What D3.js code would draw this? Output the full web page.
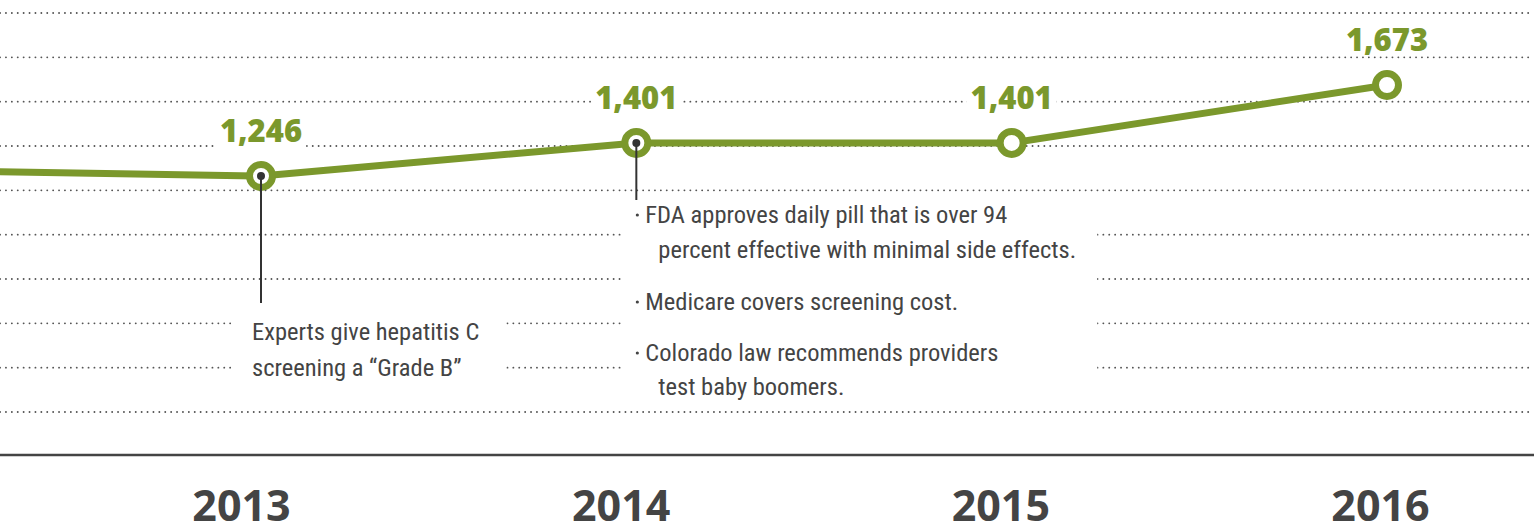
<!DOCTYPE html>
<html>
<head>
<meta charset="utf-8">
<script src="https://cdn.jsdelivr.net/npm/d3@7"></script>
<style>
  body { margin: 0; background: #fff; }
  svg { display: block; }
</style>
</head>
<body>
<div id="chart"></div>
<script>
const W = 1534, H = 529;

// data (2012 point sits just off the left edge)
const years = [2012, 2013, 2014, 2015, 2016];
const cases = [1275, 1246, 1401, 1401, 1673];
const yearLabels = ["2013", "2014", "2015", "2016"];
const gridRows = d3.range(10);

const note2013 = ["Experts give hepatitis C", "screening a \u201cGrade B\u201d"];
const note2014 = [
  ["FDA approves daily pill that is over 94", "percent effective with minimal side effects."],
  ["Medicare covers screening cost."],
  ["Colorado law recommends providers", "test baby boomers."]
];

const green = "#7b982c", ink = "#444";

const svg = d3.select("#chart").append("svg")
  .attr("width", W).attr("height", H);

const x = d3.scaleLinear().domain([2013, 2016]).range([261, 1387]);
const y = d3.scaleLinear().domain([1246, 1673]).range([176, 85]);
const gy = d3.scaleLinear().domain([0, 9]).range([13, 412]);
const xLabel = d3.scaleLinear().domain([2013, 2016]).range([241, 1380]);

const data = years.map((yr, i) => ({ year: yr, value: cases[i] }));

// dotted gridlines
svg.append("g").selectAll("line")
  .data(gridRows)
  .join("line")
  .attr("x1", 0).attr("x2", W)
  .attr("y1", d => gy(d)).attr("y2", d => gy(d))
  .attr("stroke", "#555")
  .attr("stroke-width", 1.8)
  .attr("stroke-linecap", "round")
  .attr("stroke-dasharray", "0.1 5.8");

// baseline
svg.append("line")
  .attr("x1", 0).attr("x2", W)
  .attr("y1", 455).attr("y2", 455)
  .attr("stroke", ink).attr("stroke-width", 2.5);

// year axis
const axis = svg.append("g")
  .attr("transform", "translate(0,521)")
  .call(d3.axisBottom(xLabel).tickValues([2013, 2014, 2015, 2016])
    .tickFormat((d, i) => yearLabels[i]).tickSize(0).tickPadding(0));
axis.select(".domain").remove();
axis.selectAll("text")
  .attr("dy", 0)
  .attr("fill", ink)
  .style("font-family", "'Open Sans', sans-serif")
  .style("font-weight", 700)
  .style("font-size", "43px");

// annotations
const noteFont = "'Liberation Sans Narrow', 'Roboto Condensed', 'Liberation Sans', sans-serif";
const noteSize = "24.5px";
const noteLayer = svg.append("g");

function addBox(g, padL, padR, padT, padB) {
  const b = g.node().getBBox();
  g.insert("rect", ":first-child")
    .attr("x", b.x - padL).attr("y", b.y - padT)
    .attr("width", b.width + padL + padR).attr("height", b.height + padT + padB)
    .attr("fill", "#fff");
}

const g13 = noteLayer.append("g");
g13.selectAll("text")
  .data(note2013)
  .join("text")
  .attr("x", x(2013) - 9)
  .attr("y", (d, i) => 340 + i * 36)
  .attr("fill", ink)
  .style("font-family", noteFont)
  .style("font-size", noteSize)
  .text(d => d);
addBox(g13, 20, 27, 8, 10);

const g14 = noteLayer.append("g");
const lineYs = [[223, 258], [310], [361, 395]];
note2014.forEach((lines, k) => {
  g14.append("circle")
    .attr("cx", x(2014) + 1).attr("cy", lineYs[k][0] - 8)
    .attr("r", 1.6)
    .attr("fill", ink);
  lines.forEach((t, j) => {
    g14.append("text")
      .attr("x", x(2014) + (j === 0 ? 9 : 22))
      .attr("y", lineYs[k][j])
      .attr("fill", ink)
      .style("font-family", noteFont)
      .style("font-size", noteSize)
      .text(t);
  });
});
addBox(g14, 12, 21, 6, 8);

// the line
const line = d3.line().x(d => x(d.year)).y(d => y(d.value));
svg.append("path")
  .datum(data)
  .attr("d", line)
  .attr("fill", "none")
  .attr("stroke", green)
  .attr("stroke-width", 7)
  .attr("stroke-linejoin", "round");

const shown = data.filter(d => d.year >= 2013);

// value labels with white backing
const labels = svg.append("g").selectAll("g")
  .data(shown)
  .join("g");
labels.append("text")
  .attr("x", d => x(d.year))
  .attr("y", d => y(d.value) - 34)
  .attr("text-anchor", "middle")
  .attr("fill", green)
  .style("font-family", "'Open Sans', sans-serif")
  .style("font-weight", 800)
  .style("font-size", "31px")
  .text(d => d3.format(",")(d.value));
labels.each(function () {
  const g = d3.select(this);
  const b = g.select("text").node().getBBox();
  g.insert("rect", ":first-child")
    .attr("x", b.x - 4).attr("y", b.y + 4)
    .attr("width", b.width + 8).attr("height", b.height - 8)
    .attr("fill", "#fff");
});

// markers
svg.append("g").selectAll("circle")
  .data(shown)
  .join("circle")
  .attr("cx", d => x(d.year))
  .attr("cy", d => y(d.value))
  .attr("r", 11.5)
  .attr("fill", "#fff")
  .attr("stroke", green)
  .attr("stroke-width", 7);

// leader lines from 2013 and 2014
const leaders = [{ year: 2013, end: 303 }, { year: 2014, end: 200 }];
const byYear = new Map(data.map(d => [d.year, d.value]));
svg.append("g").selectAll("line")
  .data(leaders)
  .join("line")
  .attr("x1", d => x(d.year)).attr("x2", d => x(d.year))
  .attr("y1", d => y(byYear.get(d.year))).attr("y2", d => d.end)
  .attr("stroke", "#333").attr("stroke-width", 2);
svg.append("g").selectAll("circle")
  .data(leaders)
  .join("circle")
  .attr("cx", d => x(d.year))
  .attr("cy", d => y(byYear.get(d.year)))
  .attr("r", 4)
  .attr("fill", "#333");
</script>
</body>
</html>
